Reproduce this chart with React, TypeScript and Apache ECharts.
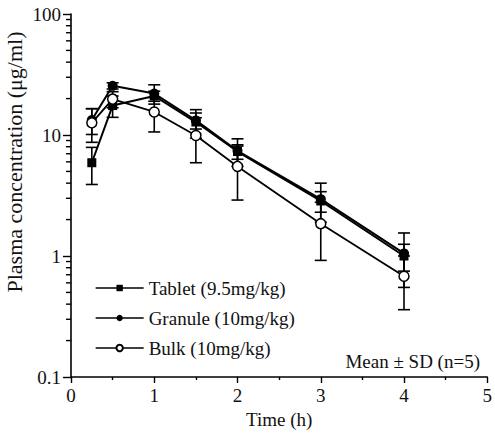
import React, { useEffect, useRef } from "react";
import * as echarts from "echarts";

const times = [0.25, 0.5, 1, 1.5, 2, 3, 4];
const tablet = [5.9, 17.5, 21, 12.8, 7.3, 2.85, 1.0];
const tabletSD = [2.0, 3.5, 2.0, 3.4, 1.0, 0.55, 0.25];
const granule = [13.3, 25.5, 22, 13.2, 7.4, 2.95, 1.05];
const granuleSD = [3.2, 1.5, 4.0, 2.0, 1.9, 1.05, 0.5];
const bulk = [12.6, 19.8, 15.5, 9.9, 5.5, 1.85, 0.68];
const bulkSD = [3.9, 3.0, 4.9, 4.0, 2.6, 0.93, 0.32];

const seriesNames = ["Tablet (9.5mg/kg)", "Granule (10mg/kg)", "Bulk (10mg/kg)"];
const yTickLabels = ["0.1", "1", "10", "100"];
const yMinorTicks = [
  0.2, 0.3, 0.4, 0.5, 0.6, 0.7, 0.8, 0.9,
  2, 3, 4, 5, 6, 7, 8, 9,
  20, 30, 40, 50, 60, 70, 80, 90,
];

const FONT = "'Liberation Serif', 'Times New Roman', Times, serif";

function errData(means: number[], sds: number[]) {
  return times.map((t, i) => [t, means[i] - sds[i], means[i] + sds[i]]);
}

function errSeries(means: number[], sds: number[]) {
  return {
    type: "custom",
    z: 1,
    silent: true,
    clip: false,
    data: errData(means, sds),
    renderItem: (params: any, api: any) => {
      const x = api.value(0);
      const lo = api.coord([x, api.value(1)]);
      const hi = api.coord([x, api.value(2)]);
      const w = 6;
      const style = { stroke: "#000", lineWidth: 1.6 };
      return {
        type: "group",
        children: [
          { type: "line", shape: { x1: lo[0], y1: lo[1], x2: hi[0], y2: hi[1] }, style },
          { type: "line", shape: { x1: lo[0] - w, y1: lo[1], x2: lo[0] + w, y2: lo[1] }, style },
          { type: "line", shape: { x1: hi[0] - w, y1: hi[1], x2: hi[0] + w, y2: hi[1] }, style },
        ],
      };
    },
  };
}

export default function App() {
  const ref = useRef<HTMLDivElement>(null);
  useEffect(() => {
    if (!ref.current) return;
    const chart = echarts.init(ref.current, undefined, { renderer: "svg" });
    const pair = (arr: number[]) => times.map((t, i) => [t, arr[i]]);
    chart.setOption({
      animation: false,
      backgroundColor: "#fff",
      grid: { left: 71, right: 6, top: 14, bottom: 52 },
      legend: {
        orient: "vertical",
        left: 95,
        top: 277,
        padding: 0,
        itemWidth: 48,
        itemHeight: 8,
        itemGap: 8,
        data: seriesNames,
        lineStyle: { width: 1.3 },
        textStyle: { fontFamily: FONT, fontSize: 19, color: "#111", lineHeight: 22 },
      },
      graphic: [
        {
          type: "text",
          x: 14,
          y: 162,
          rotation: Math.PI / 2,
          style: {
            text: "Plasma concentration (μg/ml)",
            fontFamily: FONT,
            fontSize: 22,
            fill: "#111",
            textAlign: "center",
            textVerticalAlign: "middle",
          },
        },
        {
          type: "text",
          x: 480,
          y: 361,
          style: {
            text: "Mean ± SD (n=5)",
            fontFamily: FONT,
            fontSize: 19,
            fill: "#111",
            textAlign: "right",
            textVerticalAlign: "middle",
          },
        },
      ],
      xAxis: {
        type: "value",
        min: 0,
        max: 5,
        interval: 1,
        name: "Time (h)",
        nameLocation: "middle",
        nameGap: 33,
        nameTextStyle: { fontFamily: FONT, fontSize: 19, color: "#111" },
        splitLine: { show: false },
        axisLine: { lineStyle: { color: "#000", width: 1.6 } },
        axisTick: { length: 6, lineStyle: { color: "#000", width: 1.4 } },
        minorTick: { show: true, splitNumber: 2, length: 3, lineStyle: { color: "#000", width: 1.4 } },
        axisLabel: { fontFamily: FONT, fontSize: 19, color: "#111", margin: 9 },
      },
      yAxis: {
        type: "log",
        logBase: 10,
        min: 0.1,
        max: 100,
        splitLine: { show: false },
        axisLine: { lineStyle: { color: "#000", width: 1.6 } },
        axisTick: { length: 8, lineStyle: { color: "#000", width: 1.4 } },
        axisLabel: {
          fontFamily: FONT,
          fontSize: 19,
          color: "#111",
          margin: 10,
          formatter: (v: number) => {
            const idx = Math.round(Math.log10(v)) + 1;
            return yTickLabels[idx] ?? String(v);
          },
        },
      },
      series: [
        {
          type: "custom",
          silent: true,
          clip: false,
          data: yMinorTicks.map((v) => [0, v]),
          renderItem: (params: any, api: any) => {
            const p = api.coord([0, api.value(1)]);
            return {
              type: "line",
              shape: { x1: p[0] - 5, y1: p[1], x2: p[0], y2: p[1] },
              style: { stroke: "#000", lineWidth: 1.4 },
            };
          },
        },
        errSeries(tablet, tabletSD),
        errSeries(granule, granuleSD),
        errSeries(bulk, bulkSD),
        {
          name: seriesNames[0],
          type: "line",
          data: pair(tablet),
          symbol: "rect",
          symbolSize: 9,
          lineStyle: { color: "#000", width: 2 },
          itemStyle: { color: "#000" },
          z: 3,
        },
        {
          name: seriesNames[1],
          type: "line",
          data: pair(granule),
          symbol: "circle",
          symbolSize: 10,
          lineStyle: { color: "#000", width: 2 },
          itemStyle: { color: "#000" },
          z: 3,
        },
        {
          name: seriesNames[2],
          type: "line",
          data: pair(bulk),
          symbol: "circle",
          symbolSize: 10,
          showAllSymbol: true,
          lineStyle: { color: "#000", width: 1.8 },
          itemStyle: { color: "#fff", borderColor: "#000", borderWidth: 1.5 },
          z: 4,
        },
      ],
    });
    return () => chart.dispose();
  }, []);
  return (
    <div
      ref={ref}
      style={{ position: "fixed", left: 0, top: 0, width: 495, height: 434, background: "#fff" }}
    />
  );
}
